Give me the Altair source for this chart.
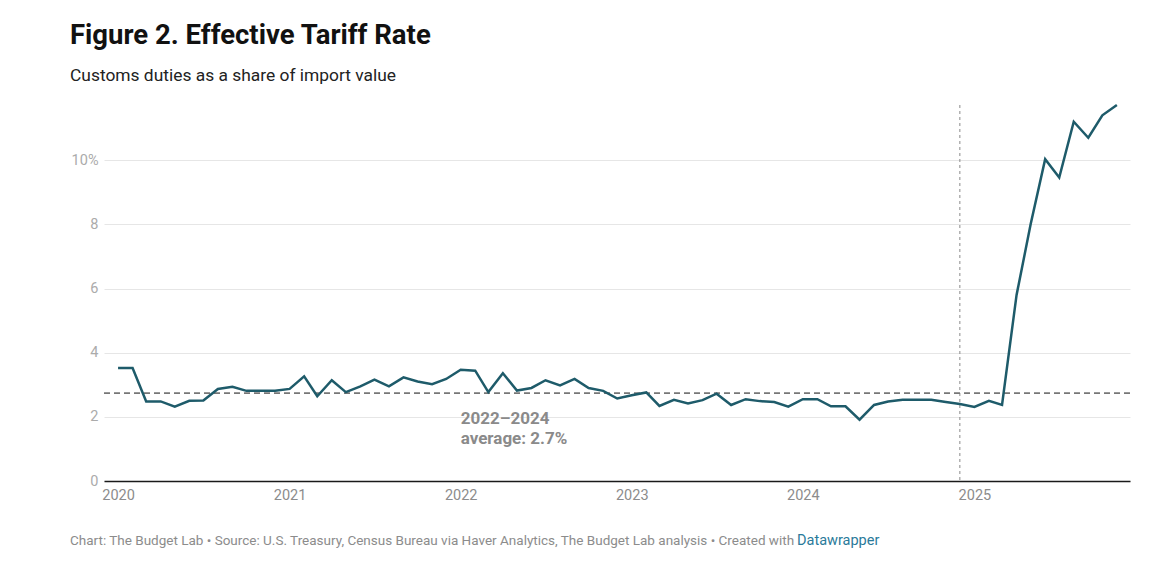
import altair as alt
import pandas as pd

months = pd.date_range("2020-01-01", "2025-11-01", freq="MS").strftime("%Y-%m-%d").tolist()
rates = [
    3.52, 3.52, 2.48, 2.48, 2.32, 2.50, 2.51, 2.87, 2.94, 2.81, 2.81, 2.81,
    2.87, 3.26, 2.64, 3.14, 2.77, 2.95, 3.16, 2.95, 3.23, 3.10, 3.02, 3.18,
    3.47, 3.44, 2.77, 3.36, 2.82, 2.90, 3.14, 2.98, 3.18, 2.90, 2.81, 2.57,
    2.67, 2.76, 2.34, 2.53, 2.42, 2.52, 2.72, 2.37, 2.55, 2.49, 2.46, 2.32,
    2.55, 2.55, 2.33, 2.33, 1.91, 2.37, 2.48, 2.53, 2.53, 2.53, 2.46, 2.40,
    2.31, 2.50, 2.37, 5.80, 8.00, 10.03, 9.46, 11.20, 10.70, 11.40, 11.72,
]
avg_value = [2.74]
avg_label_date = ["2022-01-01"]
avg_label_y = [1.78]
avg_label_text = [["2022–2024", "average: 2.7%"]]
marker_date = ["2024-12-01"]
year_ticks = [2020, 2021, 2022, 2023, 2024, 2025]
y_ticks = [0, 2, 4, 6, 8, 10]
footer_main = ["Chart: The Budget Lab • Source: U.S. Treasury, Census Bureau via Haver Analytics, The Budget Lab analysis • Created with"]
footer_link = ["Datawrapper"]

W, H = 1026, 376
FONT = "Roboto"

df = pd.DataFrame({"date": months, "rate": rates})

xscale = alt.Scale(
    type="utc",
    domain=[alt.DateTime(year=2019, month=12, date=2, utc=True),
            alt.DateTime(year=2025, month=11, date=29, utc=True)],
)
yscale = alt.Scale(domain=[0, max(rates)], nice=False, zero=True)

x_enc = alt.X(
    "date:T", scale=xscale, title=None,
    axis=alt.Axis(
        values=[alt.DateTime(year=y, month=1, date=1, utc=True) for y in year_ticks],
        format="%Y", formatType="utc", grid=False, ticks=False,
        domainColor="#1a1a1a", domainWidth=1.3, labelColor="#8c8c8c",
        labelFontSize=14.5, labelFont=FONT, labelPadding=7, labelFlush=False,
    ),
)
y_enc = alt.Y(
    "rate:Q", scale=yscale, title=None,
    axis=alt.Axis(
        values=y_ticks, labelExpr="datum.value == 10 ? '10%' : datum.label",
        grid=True, gridColor="#e6e6e6", ticks=False, domain=False,
        labelColor="#ababab", labelFontSize=14.5, labelFont=FONT, labelPadding=6,
    ),
)

line = alt.Chart(df).mark_line(color="#1e5b6a", strokeWidth=2.5, strokeJoin="miter").encode(x=x_enc, y=y_enc)

avg_rule = alt.Chart(pd.DataFrame({"v": avg_value})).mark_rule(
    color="#777777", strokeDash=[6, 4], strokeWidth=1.6
).encode(y=alt.Y("v:Q", scale=yscale))

vline = alt.Chart(pd.DataFrame({"d": marker_date})).mark_rule(
    color="#8a8a8a", strokeDash=[3, 3], strokeWidth=1
).encode(x=alt.X("d:T", scale=xscale))

avg_text = alt.Chart(pd.DataFrame({"d": avg_label_date, "y": avg_label_y, "t": avg_label_text})).mark_text(
    align="left", baseline="alphabetic", font=FONT, fontSize=17, fontWeight="bold",
    color="#8a8a8a", lineHeight=20,
).encode(x=alt.X("d:T", scale=xscale), y=alt.Y("y:Q", scale=yscale), text="t")

foot1 = alt.Chart(pd.DataFrame({"t": footer_main})).mark_text(
    align="left", baseline="alphabetic", font=FONT, fontSize=13.5, color="#8c8c8c"
).encode(x=alt.value(-34), y=alt.value(H + 64), text="t")
foot2 = alt.Chart(pd.DataFrame({"t": footer_link})).mark_text(
    align="left", baseline="alphabetic", font=FONT, fontSize=14.5, color="#2a7a9a"
).encode(x=alt.value(693), y=alt.value(H + 64), text="t")

chart = alt.layer(vline, avg_rule, line, avg_text, foot1, foot2).properties(
    width=W, height=H,
    background="white",
    padding={"left": 96, "top": 97, "right": 20, "bottom": 80},
    autosize=alt.AutoSizeParams(type="none"),
    title=alt.TitleParams(
        text="Figure 2. Effective Tariff Rate",
        subtitle="Customs duties as a share of import value",
        anchor="start", frame="group", dx=-34, offset=16,
        font=FONT, fontSize=27.5, fontWeight="bold", color="#111111",
        subtitleFont=FONT, subtitleFontSize=17.4, subtitleColor="#222222",
        subtitlePadding=17,
    ),
).configure_view(strokeWidth=0, stroke="transparent")

chart.save("out.html", embed_options={"renderer": "svg", "actions": False})
